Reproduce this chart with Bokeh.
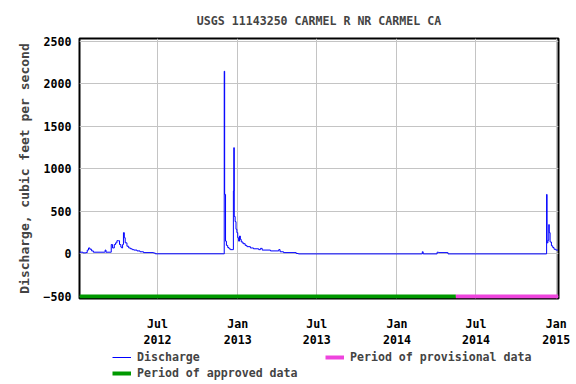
import pandas as pd
from bokeh.plotting import figure
from bokeh.layouts import column
from bokeh.models import FixedTicker, Range1d, Legend, LegendItem
from bokeh.embed import file_html
from bokeh.resources import INLINE

# ---- data ----
flow_dates = [
    "2012-01-04", "2012-01-12", "2012-01-19", "2012-01-22", "2012-01-25", "2012-01-28",
    "2012-02-01", "2012-02-05", "2012-03-01", "2012-03-03", "2012-03-05", "2012-03-17",
    "2012-03-20", "2012-03-24", "2012-03-27", "2012-03-30", "2012-04-03", "2012-04-05",
    "2012-04-08", "2012-04-10", "2012-04-12", "2012-04-14", "2012-04-16", "2012-04-18",
    "2012-04-22", "2012-04-26", "2012-04-30", "2012-05-04", "2012-05-08", "2012-05-15",
    "2012-05-22", "2012-05-30", "2012-06-22", "2012-06-26", "2012-11-30", "2012-12-01",
    "2012-12-02", "2012-12-04", "2012-12-06", "2012-12-09", "2012-12-12", "2012-12-15",
    "2012-12-21", "2012-12-22", "2012-12-23", "2012-12-24", "2012-12-26", "2012-12-28",
    "2012-12-30", "2013-01-01", "2013-01-03", "2013-01-05", "2013-01-07", "2013-01-09",
    "2013-01-13", "2013-01-18", "2013-01-22", "2013-01-30", "2013-02-06", "2013-02-18",
    "2013-02-22", "2013-02-26", "2013-03-17", "2013-04-05", "2013-04-08", "2013-04-16",
    "2013-05-15", "2013-05-20", "2014-02-27", "2014-02-28", "2014-03-02", "2014-04-03",
    "2014-04-06", "2014-04-26", "2014-04-28", "2014-12-09", "2014-12-10", "2014-12-11",
    "2014-12-13", "2014-12-15", "2014-12-16", "2014-12-18", "2014-12-21", "2014-12-24",
    "2014-12-27", "2014-12-31", "2015-01-05",
]
flow_values = [
    20, 12, 15, 45, 70, 55,
    35, 20, 20, 45, 20, 110,
    70, 110, 130, 155, 155, 110,
    80, 70, 110, 250, 190, 130,
    90, 70, 60, 50, 45, 35,
    25, 15, 10, 1, 0, 2150,
    700, 150, 100, 75, 60, 50,
    50, 740, 1250, 440, 380, 290,
    250, 190, 150, 210, 170, 140,
    120, 100, 85, 70, 60, 50,
    65, 45, 35, 50, 25, 15,
    5, 0, 0, 25, 0, 20,
    15, 15, 0, 0, 700, 130,
    160, 345, 250, 140, 95, 75,
    55, 45, 45,
]

approved_start, approved_end = "2012-01-04", "2014-05-16"
provisional_start, provisional_end = "2014-05-16", "2015-01-06"
period_level = -500

x_ticks = ["2012-07-01", "2013-01-01", "2013-07-01", "2014-01-01", "2014-07-01", "2015-01-01"]
x_tick_labels = ["Jul\n2012", "Jan\n2013", "Jul\n2013", "Jan\n2014", "Jul\n2014", "Jan\n2015"]
y_ticks = [-500, 0, 500, 1000, 1500, 2000, 2500]

title_text = "USGS 11143250 CARMEL R NR CARMEL CA"
y_label = "Discharge, cubic feet per second"
legend_labels = ["Discharge", "Period of approved data", "Period of provisional data"]

# ---- styles ----
FONT = "DejaVu Sans Mono"
FS = "11.6px"
Q_COLOR = "#0000ff"
APPR_COLOR = "#009900"
PROV_COLOR = "#ee44dd"
LEFT, RIGHT = 79, 18
MAIN_H, LEG_H = 350, 34

def ms(d):
    return int(pd.Timestamp(d).value // 10**6)

x0 = pd.Timestamp("2012-01-04 06:00")
x1 = pd.Timestamp("2015-01-06 06:00")

p = figure(width=576, height=MAIN_H, x_axis_type="datetime",
           output_backend="svg", toolbar_location=None,
           x_range=Range1d(x0, x1), y_range=Range1d(-525, 2535),
           min_border_left=LEFT, min_border_right=RIGHT,
           min_border_top=38, min_border_bottom=52)

p.title.text = title_text
p.title.align = "center"
p.title.text_font = FONT
p.title.text_font_style = "bold"
p.title.text_font_size = FS
p.title.text_line_height = 0.8
p.title.standoff = 22

p.outline_line_color = "black"
p.outline_line_width = 2
p.outline_line_alpha = 1
p.background_fill_color = "white"
p.border_fill_color = "white"

p.grid.grid_line_color = "#c4c4c4"
p.grid.grid_line_width = 1

xt = [ms(d) for d in x_ticks]
p.xaxis.ticker = FixedTicker(ticks=xt)
p.xaxis.major_label_overrides = {t: l for t, l in zip(xt, x_tick_labels)}
p.yaxis.ticker = FixedTicker(ticks=y_ticks)
p.xgrid.ticker = FixedTicker(ticks=xt)
p.ygrid.ticker = FixedTicker(ticks=y_ticks)

for ax in (p.xaxis, p.yaxis):
    ax.axis_line_color = None
    ax.major_tick_line_color = None
    ax.minor_tick_line_color = None
    ax.major_tick_out = 0
    ax.major_tick_in = 0
    ax.minor_tick_out = 0
    ax.minor_tick_in = 0
    ax.major_label_text_font = FONT
    ax.major_label_text_font_style = "bold"
    ax.major_label_text_font_size = FS
    ax.major_label_text_color = "black"
p.yaxis.major_label_standoff = 8
p.xaxis.major_label_standoff = 18
p.yaxis.axis_label = y_label
p.yaxis.axis_label_text_font = FONT
p.yaxis.axis_label_text_font_style = "bold"
p.yaxis.axis_label_text_font_size = "13px"
p.yaxis.axis_label_standoff = 9

# period bars
r_appr = p.line([pd.Timestamp(approved_start), pd.Timestamp(approved_end)],
                [period_level, period_level], line_color=APPR_COLOR, line_width=4)
r_prov = p.line([pd.Timestamp(provisional_start), pd.Timestamp(provisional_end)],
                [period_level, period_level], line_color=PROV_COLOR, line_width=4)

# discharge
p.step(pd.to_datetime(flow_dates), flow_values, mode="after",
       line_color=Q_COLOR, line_width=1)

# ---- legend strip (separate figure below the chart, frames aligned) ----
pl = figure(width=576, height=LEG_H, output_backend="svg", toolbar_location=None,
            x_range=Range1d(0, 1), y_range=Range1d(0, 1),
            x_axis_location=None, y_axis_location=None,
            min_border_left=LEFT, min_border_right=RIGHT,
            min_border_top=0, min_border_bottom=0)
pl.grid.visible = False
pl.outline_line_color = None
pl.border_fill_color = "white"
pl.background_fill_color = "white"

# legend-only proxies, placed outside the visible range
d_q = pl.line([5, 6], [5, 5], line_color=Q_COLOR, line_width=1)
d_a = pl.line([5, 6], [5, 5], line_color=APPR_COLOR, line_width=4)
d_p = pl.line([5, 6], [5, 5], line_color=PROV_COLOR, line_width=4)

def mk_legend(items, loc):
    return Legend(items=items, location=loc, orientation="vertical",
                  padding=0, margin=0, spacing=2,
                  glyph_width=19, glyph_height=14, label_height=14,
                  label_standoff=6,
                  label_text_font=FONT, label_text_font_style="bold",
                  label_text_font_size=FS,
                  border_line_color=None, background_fill_alpha=0)

lg1 = mk_legend([LegendItem(label=legend_labels[0], renderers=[d_q]),
                 LegendItem(label=legend_labels[1], renderers=[d_a])],
                (112 - LEFT, 4))
lg2 = mk_legend([LegendItem(label=legend_labels[2], renderers=[d_p])],
                (325 - LEFT, 20))
pl.add_layout(lg1, "center")
pl.add_layout(lg2, "center")

layout = column(p, pl, spacing=0)
open("out.html", "w").write(file_html(layout, INLINE))
